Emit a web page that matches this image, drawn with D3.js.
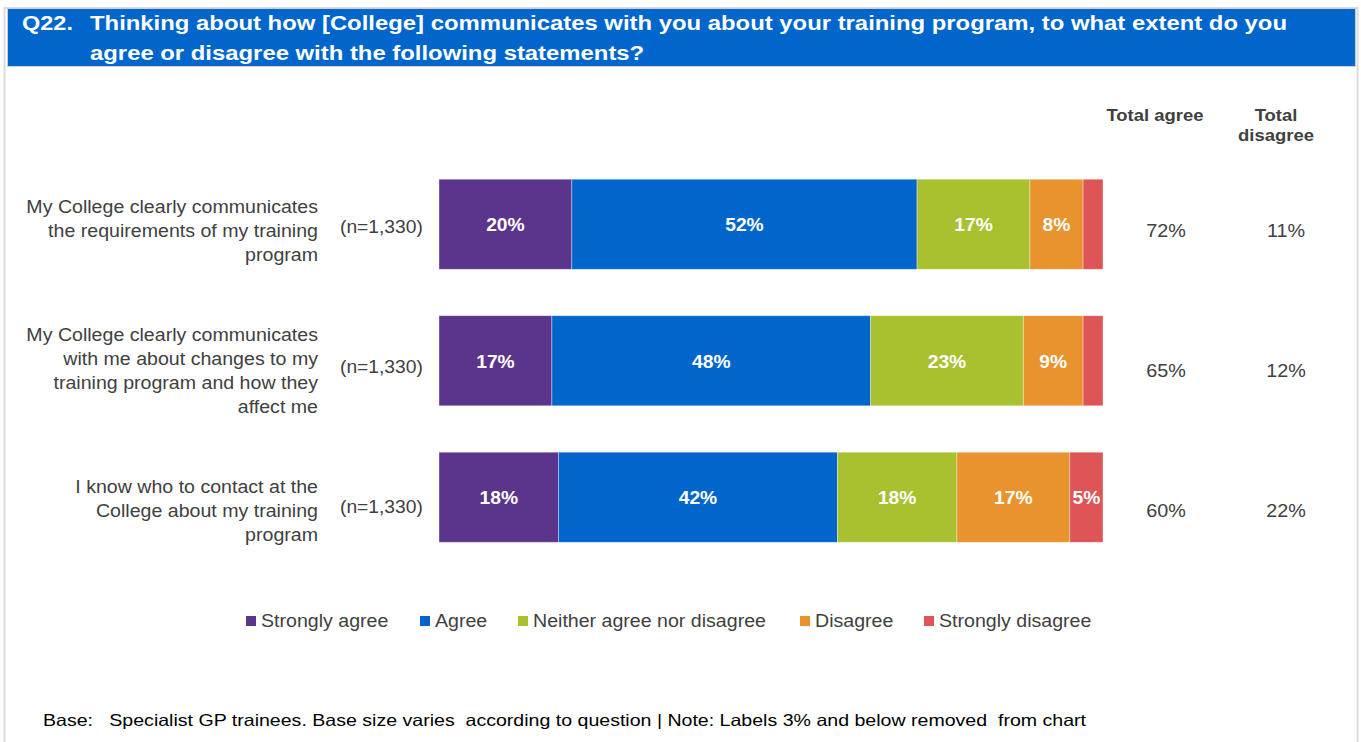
<!DOCTYPE html>
<html><head><meta charset="utf-8">
<script src="https://cdn.jsdelivr.net/npm/d3@7"></script>
<style>
body{margin:0;background:#fff;}
svg{display:block;font-family:"Liberation Sans",Arial,sans-serif;}
svg text{white-space:pre;}
</style></head>
<body><svg id="chart" width="1361" height="742"></svg>
<script>
const categories = [
  ["My College clearly communicates","the requirements of my training","program"],
  ["My College clearly communicates","with me about changes to my","training program and how they","affect me"],
  ["I know who to contact at the","College about my training","program"]
];
const bases = ["(n=1,330)","(n=1,330)","(n=1,330)"];
const seriesNames = ["Strongly agree","Agree","Neither agree nor disagree","Disagree","Strongly disagree"];
const stronglyAgree = [20,17,18];
const agree = [52,48,42];
const neither = [17,23,18];
const disagree = [8,9,17];
const stronglyDisagree = [3,3,5];
const totalAgree = [72,65,60];
const totalDisagree = [11,12,22];
const colors = ["#5B358C","#0066CC","#A9C12F","#E8932E","#DE5457"];

const svg = d3.select("#chart");
const SX = 1.1;
function txt(parent, x, y, str, o){
  o = o||{};
  return parent.append("text")
    .attr("transform",`translate(${x},${y}) scale(${o.sx||SX},1)`)
    .attr("text-anchor",o.anchor||"start")
    .attr("fill",o.fill||"#404040")
    .attr("font-size",(o.size||17.5)+"px")
    .attr("font-weight",o.bold?"bold":"normal")
    .text(str);
}
// frame
svg.append("rect").attr("x",4.5).attr("y",8).attr("width",1353).attr("height",740).attr("fill","none").attr("stroke","#dcdcdc").attr("stroke-width",2);
// header
svg.append("rect").attr("x",7.5).attr("y",8.5).attr("width",1348).attr("height",58).attr("fill","#0066CC").attr("stroke","#cfcfcf").attr("stroke-width",1);
txt(svg,22,30,"Q22.",{fill:"#fff",bold:true,size:21,sx:1.12});
txt(svg,90,30,"Thinking about how [College] communicates with you about your training program, to what extent do you",{fill:"#fff",bold:true,size:21,sx:1.137});
txt(svg,90,60,"agree or disagree with the following statements?",{fill:"#fff",bold:true,size:21,sx:1.137});

const rows = categories.map((c,i)=>({i, vals:[stronglyAgree[i],agree[i],neither[i],disagree[i],stronglyDisagree[i]]}));
const x = d3.scaleLinear().domain([0,100]).range([439,1103]);
const y = d3.scaleBand().domain(d3.range(categories.length)).range([156,565.5]).paddingInner(0.34).paddingOuter(0.17);
const yl = d3.scaleBand().domain(d3.range(categories.length)).range([159,579]);

const stack = d3.stack().keys(d3.range(5))(rows.map(r=>r.vals));
stack.forEach((layer,k)=>{
  const g = svg.append("g");
  layer.forEach((d,i)=>{
    g.append("rect").attr("x",x(d[0])).attr("y",y(i)).attr("width",x(d[1])-x(d[0])).attr("height",y.bandwidth())
      .attr("fill",colors[k]).attr("stroke","rgba(255,255,255,0.45)").attr("stroke-width",0.8);
    const v = d[1]-d[0];
    if(v>3){
      txt(g,(x(d[0])+x(d[1]))/2, y(i)+y.bandwidth()/2+7, v+"%",{anchor:"middle",fill:"#fff",bold:true,size:17.5});
    }
  });
});

// category labels
categories.forEach((lines,i)=>{
  const cy = yl(i)+yl.bandwidth()/2;
  const lh = 24;
  lines.forEach((ln,j)=>{
    txt(svg,318,cy+2+6+(j-(lines.length-1)/2)*lh,ln,{anchor:"end",sx:1.12});
  });
  txt(svg,340,cy-2+6,bases[i]);
  txt(svg,1166,cy+1+6.5,totalAgree[i]+"%",{anchor:"middle",size:18});
  txt(svg,1286,cy+1+6.5,totalDisagree[i]+"%",{anchor:"middle",size:18});
});
// column headers
txt(svg,1155,121,"Total agree",{anchor:"middle",bold:true,size:16.5,sx:1.12});
txt(svg,1276,121,"Total",{anchor:"middle",bold:true,size:16.5,sx:1.12});
txt(svg,1276,141,"disagree",{anchor:"middle",bold:true,size:16.5,sx:1.12});

// legend
const legX = [246,420,518,800,924];
seriesNames.forEach((n,k)=>{
  svg.append("rect").attr("x",legX[k]).attr("y",616).attr("width",10).attr("height",10).attr("fill",colors[k]);
  txt(svg,legX[k]+15,627,n,{size:17.5,sx:1.12});
});

// footer
svg.append("text").attr("x",43).attr("y",726).attr("fill","#000").attr("font-size","16.5px")
  .attr("textLength",1043).attr("lengthAdjust","spacingAndGlyphs")
  .text("Base:   Specialist GP trainees. Base size varies  according to question | Note: Labels 3% and below removed  from chart");
</script></body></html>
